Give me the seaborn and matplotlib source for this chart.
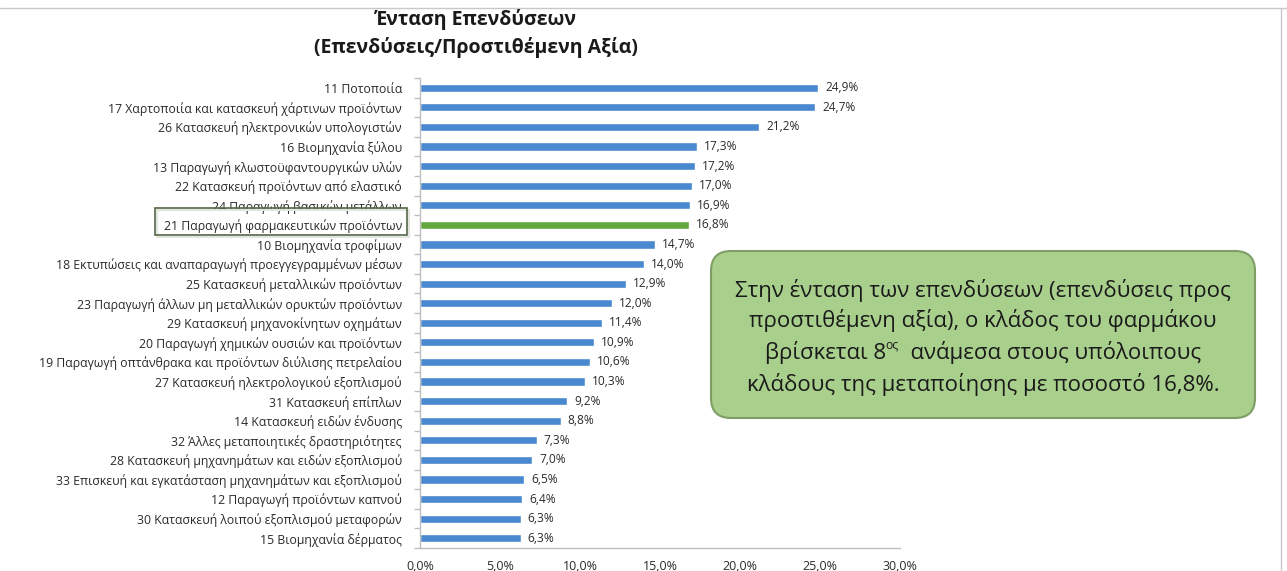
import matplotlib
matplotlib.use("Agg")
import matplotlib.pyplot as plt
from matplotlib.patches import FancyBboxPatch, Rectangle
from matplotlib.ticker import FuncFormatter, FixedLocator
import seaborn as sns
import pandas as pd

sectors = [
    "11 Ποτοποιία",
    "17 Χαρτοποιία και κατασκευή χάρτινων προϊόντων",
    "26 Κατασκευή ηλεκτρονικών υπολογιστών",
    "16 Βιομηχανία ξύλου",
    "13 Παραγωγή κλωστοϋφαντουργικών υλών",
    "22 Κατασκευή προϊόντων από ελαστικό",
    "24 Παραγωγή βασικών μετάλλων",
    "21 Παραγωγή φαρμακευτικών προϊόντων",
    "10 Βιομηχανία τροφίμων",
    "18 Εκτυπώσεις και αναπαραγωγή προεγγεγραμμένων μέσων",
    "25 Κατασκευή μεταλλικών προϊόντων",
    "23 Παραγωγή άλλων μη μεταλλικών ορυκτών προϊόντων",
    "29 Κατασκευή μηχανοκίνητων οχημάτων",
    "20 Παραγωγή χημικών ουσιών και προϊόντων",
    "19 Παραγωγή οπτάνθρακα και προϊόντων διύλισης πετρελαίου",
    "27 Κατασκευή ηλεκτρολογικού εξοπλισμού",
    "31 Κατασκευή επίπλων",
    "14 Κατασκευή ειδών ένδυσης",
    "32 Άλλες μεταποιητικές δραστηριότητες",
    "28 Κατασκευή μηχανημάτων και ειδών εξοπλισμού",
    "33 Επισκευή και εγκατάσταση μηχανημάτων και εξοπλισμού",
    "12 Παραγωγή προϊόντων καπνού",
    "30 Κατασκευή λοιπού εξοπλισμού μεταφορών",
    "15 Βιομηχανία δέρματος",
]
intensity = [24.9, 24.7, 21.2, 17.3, 17.2, 17.0, 16.9, 16.8, 14.7, 14.0, 12.9, 12.0,
             11.4, 10.9, 10.6, 10.3, 9.2, 8.8, 7.3, 7.0, 6.5, 6.4, 6.3, 6.3]
highlight = "21 Παραγωγή φαρμακευτικών προϊόντων"
x_ticks = [0, 5, 10, 15, 20, 25, 30]

title_lines = ["Ένταση Επενδύσεων", "(Επενδύσεις/Προστιθέμενη Αξία)"]
note_lines = [
    "Στην ένταση των επενδύσεων (επενδύσεις προς",
    "προστιθέμενη αξία), ο κλάδος του φαρμάκου",
    ("βρίσκεται 8", "ος", "  ανάμεσα στους υπόλοιπους"),
    "κλάδους της μεταποίησης με ποσοστό 16,8%.",
]

BLUE = "#4a89cf"
GREEN = "#62a83f"
TEXT = "#2b2b2b"
FONT = ["Open Sans", "DejaVu Sans"]

sns.set_theme(style="white")
plt.rcParams["font.family"] = FONT

df = pd.DataFrame({"sector": sectors, "value": intensity})
df["group"] = ["pharma" if s == highlight else "other" for s in sectors]

W, H = 1287, 571
fig = plt.figure(figsize=(W / 100, H / 100), dpi=100)
ax = fig.add_axes([420 / W, 1 - 548 / H, 480 / W, 470 / H])

sns.barplot(data=df, x="value", y="sector", hue="group",
            palette={"other": BLUE, "pharma": GREEN}, dodge=False,
            legend=False, width=0.42, orient="h", ax=ax, saturation=1)

def pct(v):
    return f"{v:.1f}%".replace(".", ",")

for cont in ax.containers:
    vals = [b.get_width() for b in cont]
    ax.bar_label(cont, labels=[pct(v) for v in vals], padding=5,
                 fontsize=8.6, color=TEXT)

ax.set_xlim(0, 30)
ax.set_ylim(len(sectors) - 0.5, -0.5)
ax.xaxis.set_major_locator(FixedLocator(x_ticks))
ax.xaxis.set_major_formatter(FuncFormatter(lambda v, p: pct(v)))
ax.set_xlabel("")
ax.set_ylabel("")

for s in ["top", "right"]:
    ax.spines[s].set_visible(False)
for s in ["left", "bottom"]:
    ax.spines[s].set_color("#bfbfbf")
    ax.spines[s].set_linewidth(1.0)

ax.tick_params(axis="x", which="major", direction="out", length=4, width=1,
               color="#bfbfbf", labelsize=9.0, labelcolor=TEXT, pad=5)
ax.tick_params(axis="y", which="major", length=0, pad=13, labelsize=8.8,
               labelcolor=TEXT)
ax.yaxis.set_minor_locator(FixedLocator([i + 0.5 for i in range(-1, len(sectors))]))
ax.tick_params(axis="y", which="minor", direction="out", length=4, width=1,
               color="#bfbfbf", left=True)

# overlay in pixel coordinates for title, frames and note box
ov = fig.add_axes([0, 0, 1, 1], zorder=10)
ov.set_xlim(0, W)
ov.set_ylim(H, 0)
ov.axis("off")
ov.patch.set_alpha(0)

ov.text(476, 19, title_lines[0], ha="center", va="center",
        fontsize=14, fontweight="bold", color="#1a1a1a")
ov.text(476, 47, title_lines[1], ha="center", va="center",
        fontsize=14, fontweight="bold", color="#1a1a1a")

# frame around the highlighted category label
ov.add_patch(Rectangle((157, 210), 252, 27, facecolor="none",
                       edgecolor="#e2e6de", lw=1.5))
ov.add_patch(Rectangle((155, 208), 252, 27, facecolor="none",
                       edgecolor="#56664a", lw=1.2))

# note box
ov.add_patch(FancyBboxPatch((711, 251), 544, 167,
                            boxstyle="round,pad=0,rounding_size=20",
                            facecolor="#a9cf8c", edgecolor="#7f9e66", lw=1.5))

cx = 983
line_y = [290, 321, 352, 384]
NOTE_FS = 16
renderer = fig.canvas.get_renderer()
for ln, y in zip(note_lines, line_y):
    if isinstance(ln, str):
        ov.text(cx, y, ln, ha="center", va="center", fontsize=NOTE_FS, color="#1a1a1a")
    else:
        left, sup, right = ln
        parts = [ov.text(0, y, left, fontsize=NOTE_FS, va="center", color="#1a1a1a"),
                 ov.text(0, y - 7, sup, fontsize=NOTE_FS * 0.55, va="center", color="#1a1a1a"),
                 ov.text(0, y, right, fontsize=NOTE_FS, va="center", color="#1a1a1a")]
        widths = [p.get_window_extent(renderer).width for p in parts]
        x0 = cx - sum(widths) / 2
        for p, w in zip(parts, widths):
            p.set_x(x0)
            x0 += w

# slide border lines
ov.plot([0, W], [8, 8], color="#c8c8c8", lw=1)
ov.plot([1281, 1281], [8, H], color="#c8c8c8", lw=1)

fig.savefig("out.png", dpi=100, facecolor="white")
